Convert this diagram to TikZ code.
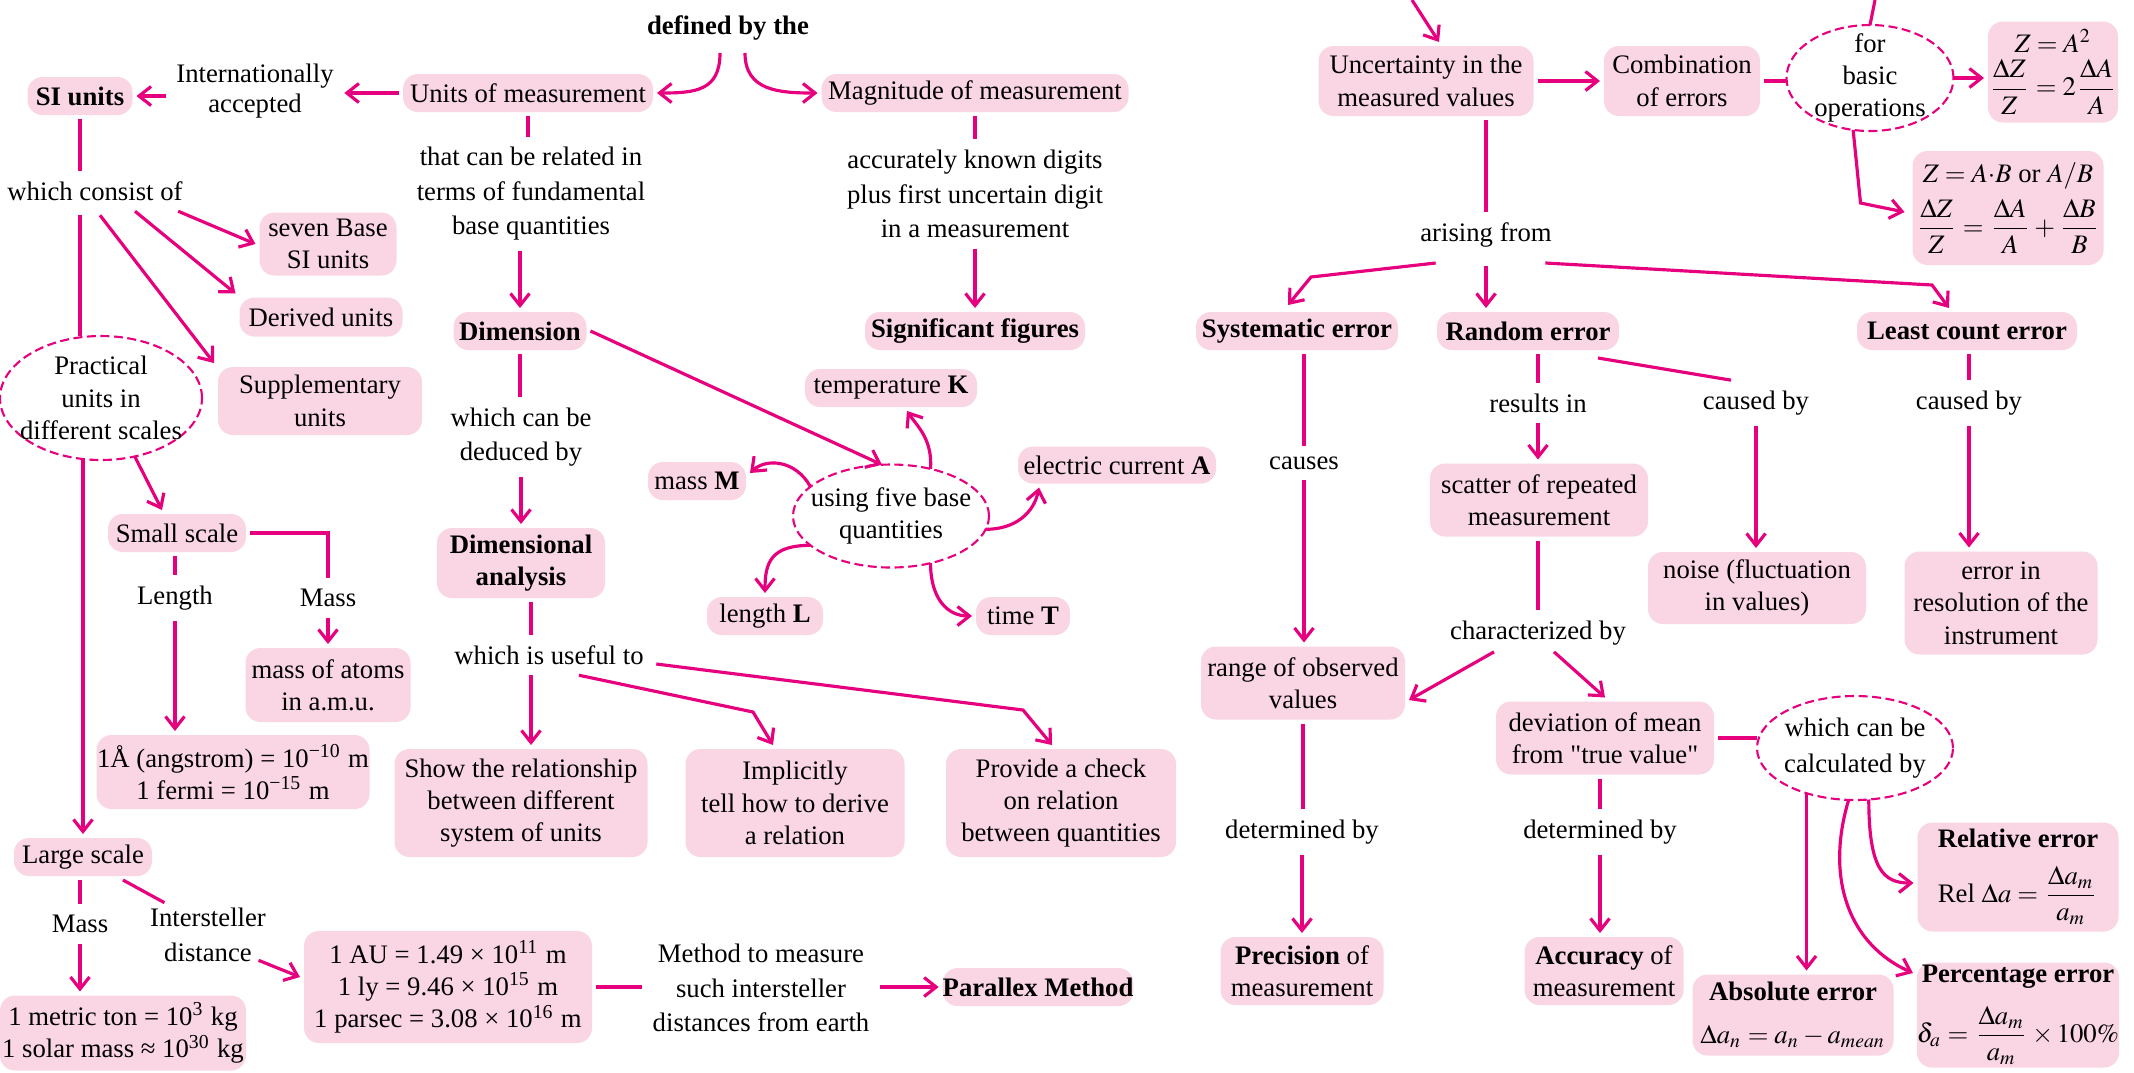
\documentclass[tikz,border=0pt]{standalone}
\usepackage{mathptmx}
\usepackage{fontspec}
\setmainfont{Liberation Serif}
\newfontfamily\qfont{Liberation Serif}
\usetikzlibrary{arrows.meta,shapes.geometric,calc}
\definecolor{magc}{RGB}{230,0,126}
\definecolor{pinkbox}{RGB}{250,214,228}
\begin{document}
\begin{tikzpicture}[x=0.1mm,y=-0.1mm,
  every node/.style={font=\fontsize{7.6}{9.2}\selectfont},
  bf/.style={font=\fontsize{7.6}{9.2}\selectfont\bfseries},
  box/.style={rectangle, rounded corners=1.5mm, fill=pinkbox, align=center, inner sep=0pt, outer sep=0.4mm},
  lbl/.style={align=center, inner sep=1mm, font=\fontsize{7.6}{9.8}\selectfont},
  ell/.style={ellipse, draw=magc, dash pattern=on 0.9mm off 0.45mm, line width=0.6pt, fill=white, inner sep=0pt, outer sep=0pt},
  elltxt/.style={align=center, inner sep=0pt},
  conn/.style={draw=magc, line width=0.9pt},
  arr/.style={conn, -{Straight Barb[length=1.2mm,width=1.9mm]}},
]
\useasboundingbox (0,0) rectangle (2134,1072);
\fill[white] (0,0) rectangle (2134,1072);

% ---------- boxes ----------
\node[box,bf,minimum width=10.5mm,minimum height=3.8mm] (si) at (80,96) {SI units};
\node[box,minimum width=25mm,minimum height=3.8mm] (um) at (528,93) {Units of measurement};
\node[box,minimum width=30.7mm,minimum height=3.8mm] (mag) at (975,93) {Magnitude of measurement};
\node[box,minimum width=13.7mm,minimum height=6.3mm] (seven) at (328,244) {seven Base\\SI units};
\node[box,minimum width=16.3mm,minimum height=3.9mm] (derived) at (321,317) {Derived units};
\node[box,minimum width=20.4mm,minimum height=6.8mm] (supp) at (320,401) {Supplementary\\units};
\node[box,bf,minimum width=13.3mm,minimum height=3.8mm] (dim) at (520,331) {Dimension};
\node[box,bf,minimum width=22mm,minimum height=3.8mm] (sig) at (975,331) {Significant figures};
\node[box,minimum width=17.2mm,minimum height=3.8mm] (temp) at (891,388) {temperature \textbf{K}};
\node[box,minimum width=9.8mm,minimum height=3.8mm] (massM) at (697,481) {mass \textbf{M}};
\node[box,minimum width=19.8mm,minimum height=3.7mm] (elec) at (1117,465) {electric current \textbf{A}};
\node[box,minimum width=11.6mm,minimum height=3.8mm] (lenL) at (765,616) {length \textbf{L}};
\node[box,minimum width=9.4mm,minimum height=3.8mm] (timeT) at (1023,616) {time \textbf{T}};
\node[box,bf,minimum width=16.8mm,minimum height=7mm] (dima) at (521,563) {Dimensional\\analysis};
\node[box,minimum width=25.3mm,minimum height=10.8mm] (show) at (521,803) {Show the relationship\\between different\\system of units};
\node[box,minimum width=21.9mm,minimum height=10.8mm] (impl) at (795,803) {Implicitly\\tell how to derive\\a relation};
\node[box,minimum width=23mm,minimum height=10.8mm] (prov) at (1061,803) {Provide a check\\on relation\\between quantities};
\node[box,minimum width=13.8mm,minimum height=3.8mm] (small) at (177,533) {Small scale};
\node[box,minimum width=16.5mm,minimum height=7.4mm] (atoms) at (328,685) {mass of atoms\\in a.m.u.};
\node[box,minimum width=27.3mm,minimum height=7.4mm] (ang) at (233,772) {1Å (angstrom) = 10\textsuperscript{−10} m\\1 fermi = 10\textsuperscript{−15} m};
\node[box,minimum width=13.8mm,minimum height=3.8mm] (large) at (83,857) {Large scale};
\node[box,minimum width=24.6mm,minimum height=7.5mm] (ton) at (123,1033) {1 metric ton = 10\textsuperscript{3} kg\\1 solar mass ≈ 10\textsuperscript{30} kg};
\node[box,minimum width=28.8mm,minimum height=11.2mm] (au) at (448,987) {1 AU = 1.49 × 10\textsuperscript{11} m\\1 ly = 9.46 × 10\textsuperscript{15} m\\1 parsec = 3.08 × 10\textsuperscript{16} m};
\node[box,bf,minimum width=19mm,minimum height=3.8mm] (par) at (1038,987) {Parallex Method};
\node[box,minimum width=21.5mm,minimum height=7mm] (unc) at (1426,81) {Uncertainty in the\\measured values};
\node[box,minimum width=15.6mm,minimum height=7mm] (comb) at (1682,81) {Combination\\of errors};
\node[box,minimum width=13mm,minimum height=10.1mm] (za2) at (2053,72) {$Z = A^2$\\[1pt]$\displaystyle\frac{\Delta Z}{Z} = 2\frac{\Delta A}{A}$};
\node[box,minimum width=19.1mm,minimum height=11.4mm] (zab) at (2008,208) {$Z = A{\cdot}B$ or $A/B$\\[2pt]$\displaystyle\frac{\Delta Z}{Z}=\frac{\Delta A}{A}+\frac{\Delta B}{B}$};
\node[box,bf,minimum width=20.2mm,minimum height=3.8mm] (syst) at (1297,331) {Systematic error};
\node[box,bf,minimum width=18.2mm,minimum height=3.8mm] (rand) at (1528,331) {Random error};
\node[box,bf,minimum width=22mm,minimum height=3.8mm] (least) at (1967,331) {Least count error};
\node[box,minimum width=21.8mm,minimum height=7.3mm] (scatter) at (1539,500) {scatter of repeated\\measurement};
\node[box,minimum width=21.8mm,minimum height=7.2mm] (noise) at (1757,588) {noise (fluctuation\\in values)};
\node[box,minimum width=19.3mm,minimum height=10.3mm] (errin) at (2001,603) {error in\\resolution of the\\instrument};
\node[box,minimum width=20.4mm,minimum height=7.3mm] (range) at (1303,683) {range of observed\\values};
\node[box,minimum width=21.8mm,minimum height=7.3mm] (dev) at (1605,738) {deviation of mean\\from {\qfont "}true value{\qfont "}};
\node[box,minimum width=16.3mm,minimum height=6.8mm] (prec) at (1302,971) {\textbf{Precision} of\\measurement};
\node[box,minimum width=15.9mm,minimum height=6.8mm] (acc) at (1604,971) {\textbf{Accuracy} of\\measurement};
\node[box,minimum width=20.1mm,minimum height=8.1mm] (absE) at (1793,1015) {\textbf{Absolute error}\\[3pt]$\Delta a_n = a_n - a_{mean}$};
\node[box,minimum width=20.1mm,minimum height=10.9mm] (relE) at (2018,877) {\textbf{Relative error}\\[4pt]Rel $\Delta a = \displaystyle\frac{\Delta a_m}{a_m}$};
\node[box,minimum width=20.1mm,minimum height=10.5mm] (pctE) at (2018,1015) {\textbf{Percentage error}\\[4pt]$\delta_a = \displaystyle\frac{\Delta a_m}{a_m}\times 100\%$};

% ---------- dashed ellipses ----------
\node[ell,minimum width=20.2mm,minimum height=12.4mm,label={[elltxt]center:Practical\\units in\\different scales}] (prac) at (101,398) {};
\node[ell,minimum width=19.6mm,minimum height=10.3mm,label={[elltxt]center:using five base\\quantities}] (five) at (891,516) {};
\node[ell,minimum width=16.7mm,minimum height=10.6mm,label={[elltxt]center:for\\basic\\operations}] (basic) at (1870,78) {};
\node[ell,minimum width=19.6mm,minimum height=10.4mm,label={[elltxt,font=\fontsize{7.6}{10.4}\selectfont]center:which can be\\calculated by}] (calc) at (1855,748) {};

% ---------- free labels ----------
\node[lbl,font=\fontsize{7.6}{9.8}\selectfont\bfseries] (defby) at (728,28) {defined by the};
\node[lbl,font=\fontsize{7.6}{8.6}\selectfont] (intl) at (255,91) {Internationally\\accepted};
\node[lbl] (tcb) at (531,194) {that can be related in\\terms of fundamental\\base quantities};
\node[lbl] (akd) at (975,194) {accurately known digits\\plus first uncertain digit\\in a measurement};
\node[lbl] (wco) at (95,191) {which consist of};
\node[lbl] (wcb) at (521,437) {which can be\\deduced by};
\node[lbl] (wiu) at (549,655) {which is useful to};
\node[lbl] (len) at (175,598) {Length};
\node[lbl] (smass) at (328,598) {Mass};
\node[lbl] (lmass) at (80,924) {Mass};
\node[lbl] (inter) at (208,935) {Intersteller\\distance};
\node[lbl] (meth) at (761,988) {Method to measure\\such intersteller\\distances from earth};
\node[lbl] (arise) at (1486,235) {arising from};
\node[lbl] (causes) at (1304,463) {causes};
\node[lbl] (det1) at (1302,832) {determined by};
\node[lbl] (resin) at (1538,403) {results in};
\node[lbl] (cb1) at (1756,403) {caused by};
\node[lbl] (cb2) at (1969,403) {caused by};
\node[lbl] (charby) at (1538,633) {characterized by};
\node[lbl] (det2) at (1600,832) {determined by};

\coordinate (topA) at (1412,0);
\coordinate (topB) at (1875,0);

% ---------- connectors: left part ----------
\draw[arr] ($(defby.south)+(-8,2)$) .. controls +(0,38) and +(38,0) .. (um.east);
\draw[arr] ($(defby.south)+(17,2)$) .. controls +(0,38) and +(-38,0) .. (mag.west);
\draw[arr] (um.west) -- (um.west -| intl.east);
\draw[arr] (intl.west |- si.east) -- (si.east);
\draw[conn] (um.south) -- (um.south |- tcb.north);
\draw[arr] (tcb.south -| dim.north) -- (dim.north);
\draw[conn] (mag.south) -- (akd.north);
\draw[arr] (akd.south) -- (sig.north);
\draw[conn] (si.south) -- (si.south |- wco.north);
\draw[arr] ($(wco.south east)+(-15,0)$) -- (seven.west);
\draw[arr] ($(wco.south)+(40,0)$) -- (derived.north west);
\draw[arr] ($(wco.south)+(5,4)$) -- (supp.north west);
\draw[conn] ($(wco.south -| si.south)+(0,4)$) -- (si.south |- prac.north);
\draw[arr] (prac.south -| large.north) -- (large.north);
\draw[arr] (prac.-60) -- ($(small.north)+(-15,0)$);
\draw[conn] (small.south -| len.north) -- (len.north);
\draw[arr] (len.south) -- (len.south |- ang.north);
\draw[conn] (small.east) -| (smass.north);
\draw[arr] (smass.south) -- (atoms.north);
\draw[conn] (large.south -| lmass.north) -- (lmass.north);
\draw[arr] (lmass.south) -- (lmass.south |- ton.north);
\draw[conn] ($(large.south)+(40,0)$) -- ($(inter.north west)+(25,5)$);
\draw[arr] ($(inter.south east)+(-18,-12)$) -- ($(au.west)+(0,-10)$);
\draw[conn] (au.east) -- (au.east -| meth.west);
\draw[arr] (meth.east |- par.west) -- (par.west);

% ---------- connectors: middle part ----------
\draw[conn] (dim.south) -- (dim.south |- wcb.north);
\draw[arr] (wcb.south) -- (wcb.south |- dima.north);
\draw[conn] ($(dima.south)+(10,0)$) -- ($(dima.south |- wiu.north)+(10,0)$);
\draw[arr] ($(wiu.south -| show.north)+(10,0)$) -- ($(show.north)+(10,0)$);
\draw[arr] ($(wiu.south)+(30,0)$) -- ($(impl.north)+(-42,-33)$) -- ($(impl.north)+(-22,0)$);
\draw[arr] ($(wiu.east)+(2,9)$) -- ($(prov.north)+(-38,-35)$) -- ($(prov.north)+(-9,0)$);
\draw[arr] (dim.east) -- (five.100);
\draw[arr] (five.160) .. controls +(-15,-27) and +(16,-15) .. ($(massM.east)+(0,-8)$);
\draw[arr] (five.50) .. controls +(2,-30) and +(10,15) .. ($(temp.south)+(16,0)$);
\draw[arr] (five.-8) .. controls +(30,0) and +(-5,25) .. ($(elec.south west)+(25,0)$);
\draw[arr] (five.200) .. controls +(-40,0) and +(0,-30) .. (lenL.north);
\draw[arr] (five.-50) .. controls +(0,35) and +(-25,0) .. (timeT.west);

% ---------- connectors: right part ----------
\draw[arr] (topA) -- ($(unc.north)+(13,0)$);
\draw[arr] (unc.east) -- (comb.west);
\draw[conn] (comb.east) -- (comb.east -| basic.west);
\draw[conn] (topB) -- (basic.north);
\draw[arr] (basic.east) -- (basic.east -| za2.west);
\draw[arr] (basic.-108) -- ($(zab.west)+(-48,-5)$) -- ($(zab.west)+(-4,4)$);
\draw[conn] (unc.south -| arise.north) -- (arise.north);
\draw[arr] ($(arise.south west)+(26,5)$) -- ($(syst.north)+(14,-31)$) -- ($(syst.north)+(-9,-3)$);
\draw[arr] ($(arise.south)+(0,8)$) -- (arise.south |- rand.north);
\draw[arr] ($(arise.south east)+(-17,5)$) -- ($(least.north)+(-35,-23)$) -- ($(least.north)+(-18,0)$);
\draw[conn] (syst.south -| causes.north) -- (causes.north);
\draw[arr] (causes.south) -- (causes.south |- range.north);
\draw[conn] (range.south) -- (range.south |- det1.north);
\draw[arr] (det1.south) -- (det1.south |- prec.north);
\draw[conn] (rand.south -| resin.north) -- (resin.north);
\draw[arr] (resin.south) -- (resin.south |- scatter.north);
\draw[conn] ($(rand.south east)+(-25,4)$) -- ($(cb1.north)+(-25,0)$);
\draw[arr] (cb1.south) -- (cb1.south |- noise.north);
\draw[conn] (least.south -| cb2.north) -- (cb2.north);
\draw[arr] (cb2.south) -- (cb2.south |- errin.north);
\draw[conn] (scatter.south -| charby.north) -- (charby.north);
\draw[arr] ($(charby.south)+(-44,-4)$) -- ($(range.east)+(0,17)$);
\draw[arr] ($(charby.south)+(16,-4)$) -- (dev.north);
\draw[conn] (dev.east) -- (dev.east -| calc.west);
\draw[conn] (dev.south -| det2.north) -- (det2.north);
\draw[arr] (det2.south) -- (det2.south |- acc.north);
\draw[arr] (calc.-137) -- (calc.-137 |- absE.north);
\draw[arr] (calc.-97) .. controls +(-24,80) and +(-63,-28) .. ($(pctE.west)+(0,-42)$);
\draw[arr] (calc.-75) .. controls +(0,70) and +(-30,0) .. ($(relE.west)+(0,6)$);
\end{tikzpicture}
\end{document}
